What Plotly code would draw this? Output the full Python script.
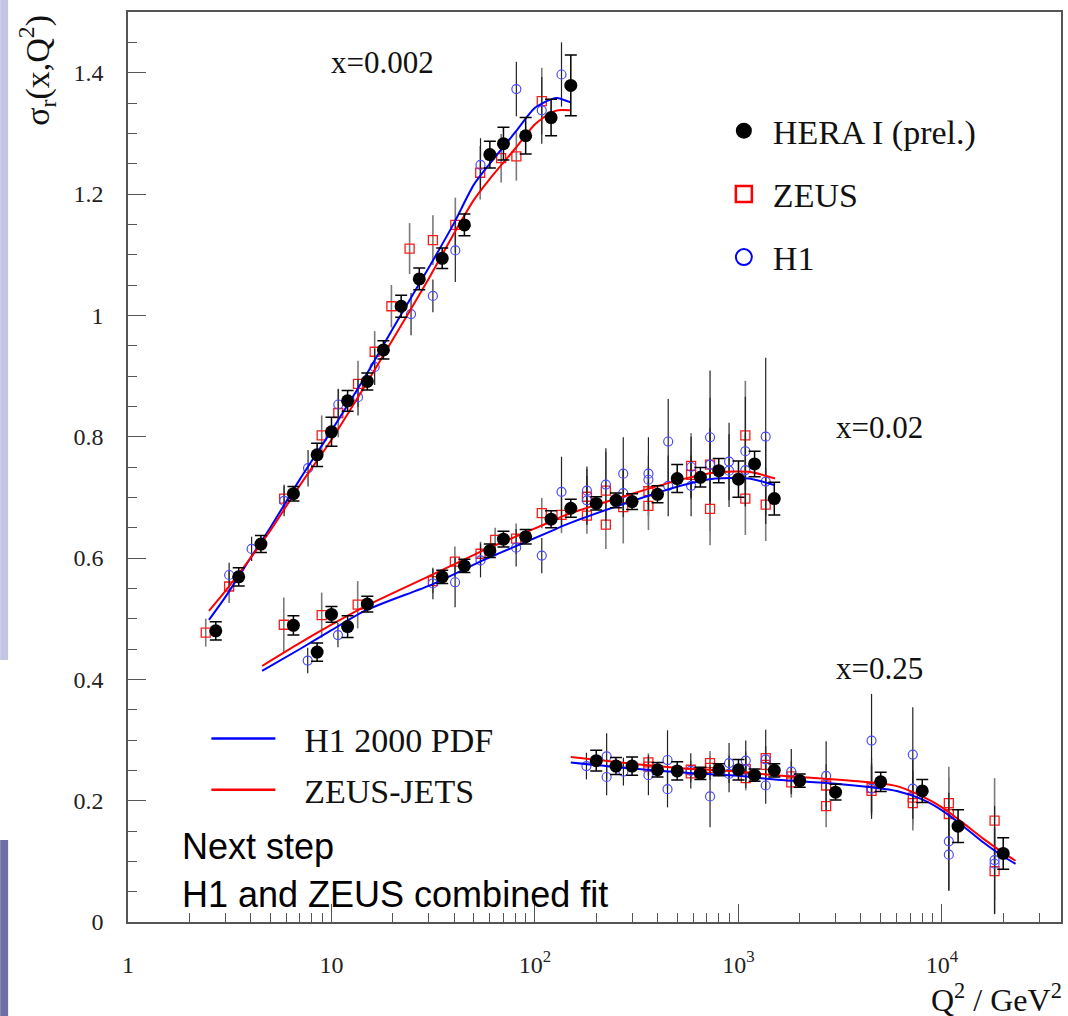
import plotly.graph_objects as go

# ---------------- data: x = 0.002 ----------------
hera_q2_a = [2.7, 3.5, 4.5, 6.5, 8.5, 10, 12, 15, 18, 22, 27, 35, 45, 60, 70, 90, 120, 150]
hera_s_a = [0.480, 0.569, 0.623, 0.706, 0.770, 0.808, 0.859, 0.891, 0.943, 1.015, 1.060, 1.094,
            1.149, 1.265, 1.283, 1.296, 1.326, 1.379]
hera_e_a = [0.015, 0.015, 0.014, 0.012, 0.019, 0.024, 0.017, 0.014, 0.015, 0.018, 0.018, 0.017,
            0.018, 0.022, 0.027, 0.03, 0.03, 0.05]

zeus_q2_a = [2.41, 3.14, 5.85, 8.95, 10.8, 13.5, 16.3, 19.7, 24.2, 31.5, 40.6, 53.8, 68.2, 81, 108]
zeus_s_a = [0.477, 0.553, 0.698, 0.802, 0.839, 0.887, 0.940, 1.015, 1.110, 1.124, 1.149, 1.235,
            1.259, 1.262, 1.353]
zeus_e_a = [0.023, 0.027, 0.023, 0.033, 0.04, 0.038, 0.034, 0.035, 0.042, 0.041, 0.045, 0.044,
            0.04, 0.04, 0.055]

h1_q2_a = [3.14, 4.05, 5.85, 7.67, 10.8, 13.5, 16.3, 24.6, 31.5, 40.6, 54, 81, 108, 135]
h1_s_a = [0.572, 0.615, 0.694, 0.748, 0.853, 0.865, 0.915, 1.002, 1.032, 1.107, 1.248, 1.373,
          1.338, 1.397]
h1_e_a = [0.02, 0.02, 0.025, 0.03, 0.025, 0.03, 0.03, 0.035, 0.027, 0.052, 0.044, 0.045,
          0.055, 0.053]

fit_q2_a = [2.5, 3, 4, 5, 7, 10, 15, 20, 30, 40, 50, 60, 80, 100, 120, 130, 150]
h1pdf_a = [0.498, 0.535, 0.600, 0.650, 0.730, 0.810, 0.905, 0.978, 1.078, 1.152, 1.215, 1.250,
           1.302, 1.342, 1.356, 1.358, 1.351]
zjets_a = [0.513, 0.545, 0.600, 0.645, 0.720, 0.795, 0.890, 0.960, 1.060, 1.135, 1.190, 1.225,
           1.275, 1.315, 1.334, 1.338, 1.338]

# ---------------- data: x = 0.02 ----------------
hera_q2_b = [6.5, 8.5, 10, 12, 15, 35, 45, 60, 70, 90, 120, 150, 200, 250, 300, 400, 500, 650,
             800, 1000, 1200, 1500]
hera_s_b = [0.489, 0.445, 0.507, 0.487, 0.524, 0.569, 0.587, 0.612, 0.631, 0.635, 0.664, 0.682,
            0.690, 0.695, 0.693, 0.705, 0.731, 0.733, 0.744, 0.730, 0.755, 0.698]
hera_e_b = [0.016, 0.015, 0.013, 0.018, 0.013, 0.011, 0.011, 0.011, 0.013, 0.012, 0.014, 0.015,
            0.011, 0.012, 0.013, 0.014, 0.023, 0.016, 0.02, 0.03, 0.021, 0.027]

zeus_q2_b = [5.83, 8.95, 13.45, 31.5, 40.4, 54, 63.7, 80.8, 108, 135, 180, 180, 223, 223, 271.5,
             361, 361, 585, 585, 725, 725, 1081, 1081, 1361]
zeus_s_b = [0.490, 0.506, 0.523, 0.562, 0.594, 0.607, 0.630, 0.632, 0.674, 0.671, 0.701, 0.670,
            0.711, 0.655, 0.684, 0.710, 0.686, 0.752, 0.737, 0.754, 0.681, 0.802, 0.698, 0.688]
zeus_e_b = [0.045, 0.037, 0.039, 0.02, 0.025, 0.02, 0.02, 0.025, 0.025, 0.03, 0.046, 0.03, 0.064,
            0.04, 0.06, 0.04, 0.04, 0.054, 0.04, 0.11, 0.06, 0.09, 0.06, 0.06]

h1_q2_b = [7.64, 10.76, 31.5, 40.5, 54, 80.8, 108, 135, 180, 180, 223, 271.5, 271.5, 361, 361,
           451.5, 451.5, 585, 585, 725, 725, 899, 899, 1081, 1081, 1361, 1361]
h1_s_b = [0.431, 0.473, 0.558, 0.560, 0.596, 0.617, 0.604, 0.709, 0.711, 0.695, 0.721, 0.739,
          0.707, 0.739, 0.729, 0.792, 0.719, 0.750, 0.719, 0.799, 0.754, 0.759, 0.744, 0.776,
          0.745, 0.800, 0.726]
h1_e_b = [0.021, 0.02, 0.026, 0.041, 0.028, 0.031, 0.029, 0.058, 0.04, 0.04, 0.06, 0.06, 0.04,
          0.06, 0.04, 0.07, 0.05, 0.05, 0.05, 0.11, 0.06, 0.064, 0.06, 0.09, 0.06, 0.13, 0.07]

fit_q2_b = [4.56, 7, 10, 14.8, 31.5, 55.4, 66.9, 117.7, 142, 301, 531, 774, 1127, 1513]
h1pdf_b = [0.414, 0.450, 0.481, 0.514, 0.557, 0.596, 0.608, 0.643, 0.655, 0.694, 0.720, 0.731,
           0.731, 0.720]
zjets_b = [0.422, 0.460, 0.490, 0.521, 0.573, 0.612, 0.624, 0.659, 0.671, 0.706, 0.730, 0.741,
           0.742, 0.731]

# ---------------- data: x = 0.25 ----------------
hera_q2_c = [200, 250, 300, 400, 500, 650, 800, 1000, 1200, 1500, 2000, 3000, 5000, 8000, 12000,
             20000]
hera_s_c = [0.266, 0.257, 0.257, 0.251, 0.249, 0.245, 0.251, 0.251, 0.242, 0.250, 0.233, 0.214,
            0.231, 0.216, 0.158, 0.113]
hera_e_c = [0.017, 0.014, 0.015, 0.012, 0.015, 0.01, 0.01, 0.017, 0.01, 0.011, 0.011, 0.013,
            0.016, 0.019, 0.027, 0.026]

zeus_q2_c = [361, 361, 583, 583, 725, 725, 1086, 1086, 1361, 1361, 1818, 1818, 2697, 2697, 4508,
             4508, 7190, 7190, 10810, 10810, 18140, 18140]
zeus_s_c = [0.263, 0.256, 0.251, 0.245, 0.262, 0.254, 0.252, 0.237, 0.270, 0.259, 0.240, 0.230,
            0.225, 0.191, 0.221, 0.216, 0.205, 0.196, 0.196, 0.178, 0.167, 0.084]
zeus_e_c = [0.015, 0.015, 0.015, 0.015, 0.02, 0.02, 0.02, 0.02, 0.02, 0.02, 0.025, 0.025, 0.035,
            0.035, 0.04, 0.04, 0.045, 0.045, 0.06, 0.06, 0.07, 0.07]

h1_q2_c = [179, 225, 225, 272, 361, 448, 448, 583, 725, 899, 899, 1086, 1086, 1361, 1361, 1818,
           2697, 4508, 4508, 7190, 7190, 10810, 10810, 18140, 18140]
h1_s_c = [0.257, 0.273, 0.239, 0.248, 0.242, 0.267, 0.219, 0.249, 0.207, 0.262, 0.244, 0.266,
          0.251, 0.268, 0.225, 0.248, 0.241, 0.299, 0.220, 0.276, 0.220, 0.133, 0.111, 0.102,
          0.096]
h1_e_c = [0.022, 0.038, 0.03, 0.023, 0.033, 0.049, 0.03, 0.029, 0.051, 0.033, 0.03, 0.033, 0.03,
          0.049, 0.03, 0.037, 0.057, 0.077, 0.05, 0.078, 0.05, 0.08, 0.06, 0.089, 0.06]

fit_q2_c = [150, 300, 600, 1000, 1500, 2000, 3000, 4500, 6000, 8000, 10000, 12500, 16000, 20000,
            23000]
h1pdf_c = [0.263, 0.253, 0.245, 0.241, 0.235, 0.232, 0.228, 0.222, 0.216, 0.202, 0.184, 0.160,
           0.131, 0.108, 0.096]
zjets_c = [0.272, 0.261, 0.252, 0.248, 0.242, 0.239, 0.235, 0.230, 0.224, 0.207, 0.189, 0.165,
           0.137, 0.114, 0.101]

bin_labels = ["x=0.002", "x=0.02", "x=0.25"]
x_tickvals = [1, 10, 100, 1000, 10000]
x_ticktext = ["1", "10", "10<sup>2</sup>", "10<sup>3</sup>", "10<sup>4</sup>"]
y_tickvals = [0, 0.2, 0.4, 0.6, 0.8, 1.0, 1.2, 1.4]
y_ticktext = ["0", "0.2", "0.4", "0.6", "0.8", "1", "1.2", "1.4"]

SERIF = "Liberation Serif, Times New Roman, serif"
SANS = "Liberation Sans, Arial, sans-serif"
BLUE_PT = "#4a4aff"

fig = go.Figure()

# ZEUS points
for q, s, e in [(zeus_q2_a, zeus_s_a, zeus_e_a), (zeus_q2_b, zeus_s_b, zeus_e_b),
                (zeus_q2_c, zeus_s_c, zeus_e_c)]:
    fig.add_trace(go.Scatter(
        x=q, y=s, mode="markers", showlegend=False,
        marker=dict(symbol="square-open", size=9, color="#ff1a1a", line=dict(width=1.3)),
        error_y=dict(type="data", array=e, color="#7a7a7a", thickness=1.6, width=0)))

# H1 points
for q, s, e in [(h1_q2_a, h1_s_a, h1_e_a), (h1_q2_b, h1_s_b, h1_e_b), (h1_q2_c, h1_s_c, h1_e_c)]:
    fig.add_trace(go.Scatter(
        x=q, y=s, mode="markers", showlegend=False,
        marker=dict(symbol="circle-open", size=9, color=BLUE_PT, line=dict(width=1.2)),
        error_y=dict(type="data", array=e, color="#222222", thickness=1.2, width=0)))

# fit curves
for q, b, r in [(fit_q2_a, h1pdf_a, zjets_a), (fit_q2_b, h1pdf_b, zjets_b),
                (fit_q2_c, h1pdf_c, zjets_c)]:
    fig.add_trace(go.Scatter(x=q, y=b, mode="lines", showlegend=False,
                             line=dict(color="#0000ff", width=2, shape="spline", smoothing=0.7)))
    fig.add_trace(go.Scatter(x=q, y=r, mode="lines", showlegend=False,
                             line=dict(color="#ff0000", width=2, shape="spline", smoothing=0.7)))

# HERA combined points
for q, s, e in [(hera_q2_a, hera_s_a, hera_e_a), (hera_q2_b, hera_s_b, hera_e_b),
                (hera_q2_c, hera_s_c, hera_e_c)]:
    fig.add_trace(go.Scatter(
        x=q, y=s, mode="markers", showlegend=False,
        marker=dict(symbol="circle", size=13, color="black"),
        error_y=dict(type="data", array=e, color="black", thickness=1.5, width=6)))

# legend entries (markers)
fig.add_trace(go.Scatter(x=[None], y=[None], mode="markers", name="HERA I (prel.)",
                         legend="legend", legendgroup="a",
                         marker=dict(symbol="circle", size=16, color="black")))
fig.add_trace(go.Scatter(x=[None], y=[None], mode="markers", name="ZEUS",
                         legend="legend", legendgroup="b",
                         marker=dict(symbol="square-open", size=16, color="#ff0000",
                                     line=dict(width=2.5))))
fig.add_trace(go.Scatter(x=[None], y=[None], mode="markers", name="H1",
                         legend="legend", legendgroup="c",
                         marker=dict(symbol="circle-open", size=16, color="#0000ff",
                                     line=dict(width=2))))
# legend entries (lines)
fig.add_trace(go.Scatter(x=[None], y=[None], mode="lines", name="\u2002\u2009H1 2000 PDF",
                         legend="legend2", legendgroup="d",
                         line=dict(color="#0000ff", width=2.5)))
fig.add_trace(go.Scatter(x=[None], y=[None], mode="lines", name="\u2002\u2009ZEUS-JETS",
                         legend="legend2", legendgroup="e",
                         line=dict(color="#ff0000", width=2.5)))

ann = []
# bin labels
for txt, px, py in zip(bin_labels, [0.2727, 0.8053, 0.8053], [0.944, 0.5429, 0.2791]):
    ann.append(dict(text=txt, xref="paper", yref="paper", x=px, y=py, showarrow=False,
                    xanchor="center", yanchor="middle",
                    font=dict(family=SERIF, size=31, color="#111")))
# axis titles
ann.append(dict(text="σ<sub>r</sub>(x,Q<sup>2</sup>)", xref="paper", yref="paper", x=-0.098,
                y=0.936, textangle=-90, showarrow=False, xanchor="center", yanchor="middle",
                font=dict(family=SERIF, size=34, color="#111")))
ann.append(dict(text="Q<sup>2</sup> / GeV<sup>2</sup>", xref="paper", yref="paper", x=1.003,
                y=-0.083, showarrow=False, xanchor="right", yanchor="middle",
                font=dict(family=SERIF, size=32, color="#111")))
# notes
ann.append(dict(text="Next step", xref="paper", yref="paper", x=0.0556, y=0.0835, showarrow=False,
                xanchor="left", yanchor="middle", font=dict(family=SANS, size=36, color="black")))
ann.append(dict(text="H1 and ZEUS combined fit", xref="paper", yref="paper", x=0.0556, y=0.0297,
                showarrow=False, xanchor="left", yanchor="middle",
                font=dict(family=SANS, size=36, color="black")))

shapes = [
    dict(type="rect", xref="paper", yref="paper", x0=-0.137, x1=-0.1285, y0=0.288, y1=1.02,
         fillcolor="#c4c4e4", line=dict(width=0), layer="below"),
    dict(type="rect", xref="paper", yref="paper", x0=-0.137, x1=-0.1285, y0=-0.11, y1=0.09,
         fillcolor="#6e6ea6", line=dict(width=0), layer="below"),
]

axis_common = dict(showgrid=False, zeroline=False, showline=True, mirror=True,
                   linecolor="#555555", linewidth=1.5, ticks="inside", ticklen=18,
                   tickcolor="#555555", tickwidth=1.2,
                   tickfont=dict(family=SERIF, size=24, color="#222"))

fig.update_layout(
    width=1068, height=1016,
    margin=dict(l=128, r=5, t=12, b=94),
    paper_bgcolor="white", plot_bgcolor="white",
    xaxis=dict(type="log", range=[0, 4.585], tickmode="array", tickvals=x_tickvals,
               ticktext=x_ticktext, ticklabelstandoff=20,
               minor=dict(ticks="inside", ticklen=9, dtick="D1", tickcolor="#555555",
                          tickwidth=1.2, showgrid=False),
               **axis_common),
    yaxis=dict(range=[0, 1.5], tickmode="array", tickvals=y_tickvals, ticktext=y_ticktext,
               ticklabelstandoff=18,
               minor=dict(ticks="inside", ticklen=9, dtick=0.05, tickcolor="#555555",
                          tickwidth=1.2, showgrid=False),
               **axis_common),
    legend=dict(x=0.629, y=0.901, xanchor="left", yanchor="top", bgcolor="rgba(0,0,0,0)",
                font=dict(family=SERIF, size=34, color="#111"), tracegroupgap=16,
                itemsizing="trace", itemwidth=48),
    legend2=dict(x=0.084, y=0.233, xanchor="left", yanchor="top", bgcolor="rgba(0,0,0,0)",
                 font=dict(family=SERIF, size=34, color="#111"), tracegroupgap=4,
                 itemwidth=64),
    annotations=ann,
    shapes=shapes,
)

fig.write_html("out.html", config={"displayModeBar": False},
               post_script="document.body.style.margin='0px';")
